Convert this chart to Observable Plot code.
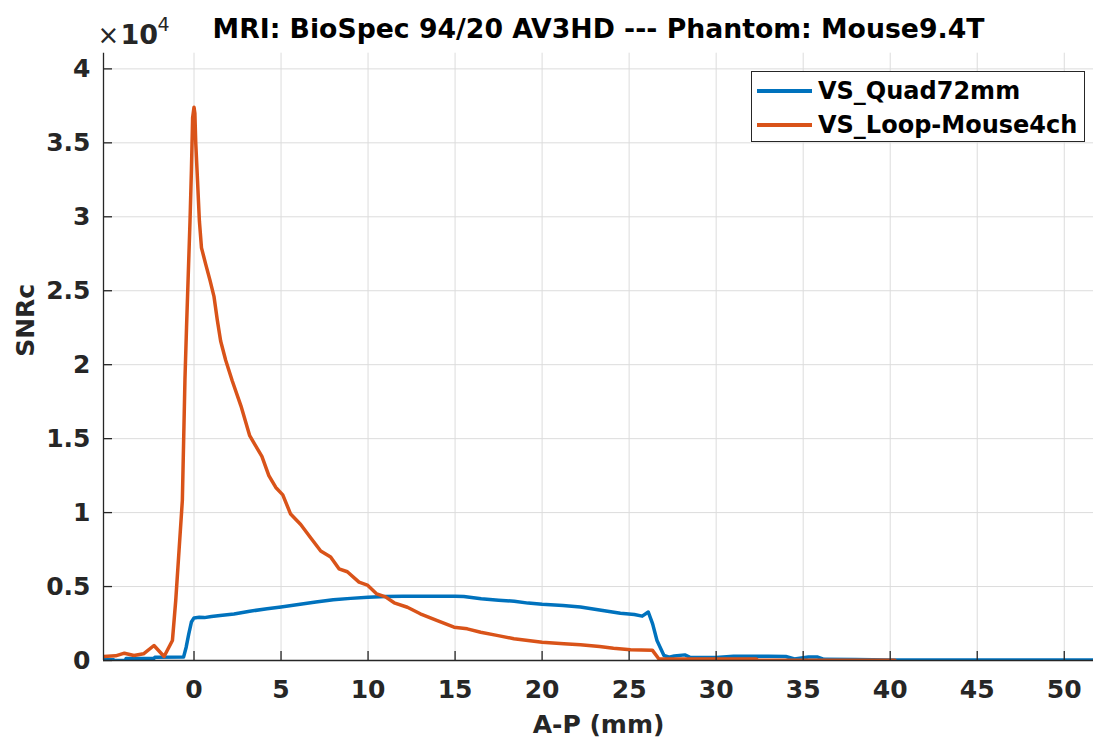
<!DOCTYPE html>
<html>
<head>
<meta charset="utf-8">
<script src="https://cdn.jsdelivr.net/npm/d3@7"></script>
<script src="https://cdn.jsdelivr.net/npm/@observablehq/plot@0.6"></script>
<style>
  html, body { margin: 0; padding: 0; background: white; }
  #wrap { position: relative; width: 1093px; height: 751px; font-family: "DejaVu Sans", sans-serif; }
  #legend { position: absolute; left: 751px; top: 71px; width: 334px; height: 71px; border: 1.3px solid #262626; background: white; box-sizing: border-box; }
  .lg-row { position: absolute; left: 0; height: 30px; display: flex; align-items: center; }
  .lg-line { width: 55px; height: 3.5px; margin-left: 5px; margin-right: 6px; }
  .lg-text { font-weight: bold; font-size: 24px; color: black; white-space: nowrap; }
</style>
</head>
<body>
<div id="wrap"></div>
<script>
// ---- data ----
const titleText = "MRI: BioSpec 94/20 AV3HD --- Phantom: Mouse9.4T";
const xLabel = "A-P (mm)";
const yLabel = "SNRc";
const seriesNames = ["VS_Quad72mm", "VS_Loop-Mouse4ch"];
const xTicks = [0, 5, 10, 15, 20, 25, 30, 35, 40, 45, 50];
const yTicks = [0, 5000, 10000, 15000, 20000, 25000, 30000, 35000, 40000];

const quadX = [-5.2, -4.62, -4.6, -3.95, -3.9, -2.3, -2.25, -0.6, -0.45, -0.3, -0.15, 0, 0.3, 0.6, 1.0, 1.5, 2.3, 3.2, 4.2, 5.0, 6.1, 7.0, 8.0, 9.0, 10.0, 11.0, 12.0, 13.0, 14.0, 15.0, 15.5, 16.5, 17.5, 18.4, 19.2, 20.0, 21.2, 22.2, 23.3, 24.5, 25.3, 25.75, 26.1, 26.35, 26.6, 27.0, 27.3, 27.6, 28.2, 28.5, 29.0, 30.0, 31.0, 32.0, 33.0, 34.0, 34.5, 35.3, 35.8, 36.2, 38.0, 40.0, 42.0, 45.0, 48.0, 51.7];
const quadY = [50, 50, 0, 0, 140, 140, 220, 230, 900, 1800, 2600, 2880, 2920, 2900, 2980, 3050, 3150, 3330, 3500, 3620, 3800, 3950, 4100, 4200, 4280, 4320, 4340, 4340, 4340, 4340, 4320, 4170, 4080, 4000, 3880, 3800, 3720, 3620, 3420, 3200, 3110, 3000, 3280, 2480, 1350, 340, 220, 300, 380, 220, 200, 210, 280, 280, 280, 270, 100, 240, 240, 80, 60, 40, 30, 40, 30, 30];

const loopX = [-5.2, -4.5, -4.0, -3.45, -2.9, -2.3, -1.72, -1.24, -1.05, -0.86, -0.67, -0.52, -0.43, -0.33, -0.23, -0.15, -0.08, 0.0, 0.05, 0.1, 0.2, 0.31, 0.43, 0.67, 0.92, 1.15, 1.34, 1.53, 1.82, 2.2, 2.7, 3.2, 3.5, 3.9, 4.3, 4.7, 5.1, 5.55, 6.13, 6.7, 7.28, 7.85, 8.33, 8.81, 9.48, 9.96, 10.5, 11.0, 11.5, 12.26, 13.0, 13.98, 14.94, 15.7, 16.47, 17.4, 18.38, 20.0, 21.25, 22.2, 23.3, 24.1, 25.08, 26.33, 26.7, 27.0, 32.3, 32.4, 40.27];
const loopY = [270, 315, 495, 338, 450, 1014, 270, 1352, 4057, 7437, 10818, 19000, 22500, 26100, 29700, 33100, 36700, 37400, 37000, 35000, 32500, 29700, 27900, 26800, 25700, 24600, 23000, 21600, 20300, 18900, 17200, 15200, 14600, 13800, 12500, 11700, 11200, 9900, 9200, 8300, 7400, 7000, 6200, 6000, 5300, 5100, 4500, 4300, 3900, 3600, 3160, 2700, 2250, 2140, 1910, 1700, 1470, 1240, 1130, 1070, 950, 830, 720, 700, 115, 100, 100, 20, 20];

// ---- build ----
const colors = ["#0072BD", "#D95319"];
const rows = [];
quadX.forEach((x, i) => rows.push({x, y: quadY[i], series: seriesNames[0]}));
loopX.forEach((x, i) => rows.push({x, y: loopY[i], series: seriesNames[1]}));

const W = 1093, H = 751, mL = 103, mR = 0, mT = 52.7, mB = 91;
const innerW = W - mL - mR, innerH = H - mT - mB;
const xDomain = [-5.2, 51.68];
const axisColor = "#262626";

const chart = Plot.plot({
  width: W, height: H,
  marginLeft: mL, marginRight: mR, marginTop: mT, marginBottom: mB,
  style: {fontFamily: "DejaVu Sans", fontWeight: "bold", color: axisColor, background: "white", overflow: "visible"},
  x: {domain: xDomain},
  y: {domain: [0, 41060]},
  color: {domain: seriesNames, range: colors},
  marks: [
    Plot.gridX(xTicks, {stroke: "#dcdcdc", strokeOpacity: 1, strokeWidth: 1}),
    Plot.gridY(yTicks, {stroke: "#dcdcdc", strokeOpacity: 1, strokeWidth: 1}),
    Plot.line(rows, {x: "x", y: "y", z: "series", stroke: "series", strokeWidth: 3.5, clip: true}),
    Plot.ruleY([0], {stroke: axisColor, strokeWidth: 1.3}),
    Plot.ruleX([xDomain[0]], {stroke: axisColor, strokeWidth: 1.3}),
    Plot.ruleX(xTicks, {stroke: axisColor, strokeWidth: 1.3, insetTop: innerH - 9}),
    Plot.ruleY(yTicks, {stroke: axisColor, strokeWidth: 1.3, insetRight: innerW - 9}),
    Plot.axisX(xTicks, {tickSize: 0, tickPadding: 20, fontSize: 25, fontWeight: "bold", label: null, fill: axisColor}),
    Plot.axisY(yTicks, {tickSize: 0, tickPadding: 13, fontSize: 25, fontWeight: "bold", label: null, fill: axisColor, tickFormat: d => String(d / 1e4)}),
    Plot.text([xLabel], {text: d => d, frameAnchor: "bottom", dy: 72, fontSize: 25, fontWeight: "bold", fill: axisColor}),
    Plot.text([yLabel], {text: d => d, frameAnchor: "left", dx: -78, rotate: -90, fontSize: 25, fontWeight: "bold", fill: axisColor}),
    Plot.text([titleText], {text: d => d, frameAnchor: "top", dy: -15.7, lineAnchor: "bottom", fontSize: 26.7, fontWeight: "bold", fill: "black"}),
    Plot.text(["×"], {text: d => d, frameAnchor: "top-left", dx: -6, dy: -9.7, lineAnchor: "bottom", textAnchor: "start", fontSize: 26, fontWeight: "normal", fill: axisColor}),
    Plot.text(["10"], {text: d => d, frameAnchor: "top-left", dx: 17, dy: -9.7, lineAnchor: "bottom", textAnchor: "start", fontSize: 27, fontWeight: "bold", fill: axisColor}),
    Plot.text(["4"], {text: d => d, frameAnchor: "top-left", dx: 54, dy: -22, lineAnchor: "bottom", textAnchor: "start", fontSize: 19, fontWeight: "normal", fill: axisColor})
  ]
});

const wrap = document.getElementById("wrap");
wrap.appendChild(chart);

// legend
const legend = document.createElement("div");
legend.id = "legend";
seriesNames.forEach((name, i) => {
  const row = document.createElement("div");
  row.className = "lg-row";
  row.style.top = (i === 0 ? 4 : 38) + "px";
  const ln = document.createElement("div");
  ln.className = "lg-line";
  ln.style.background = colors[i];
  const tx = document.createElement("span");
  tx.className = "lg-text";
  tx.textContent = name;
  row.appendChild(ln); row.appendChild(tx);
  legend.appendChild(row);
});
wrap.appendChild(legend);
</script>
</body>
</html>
